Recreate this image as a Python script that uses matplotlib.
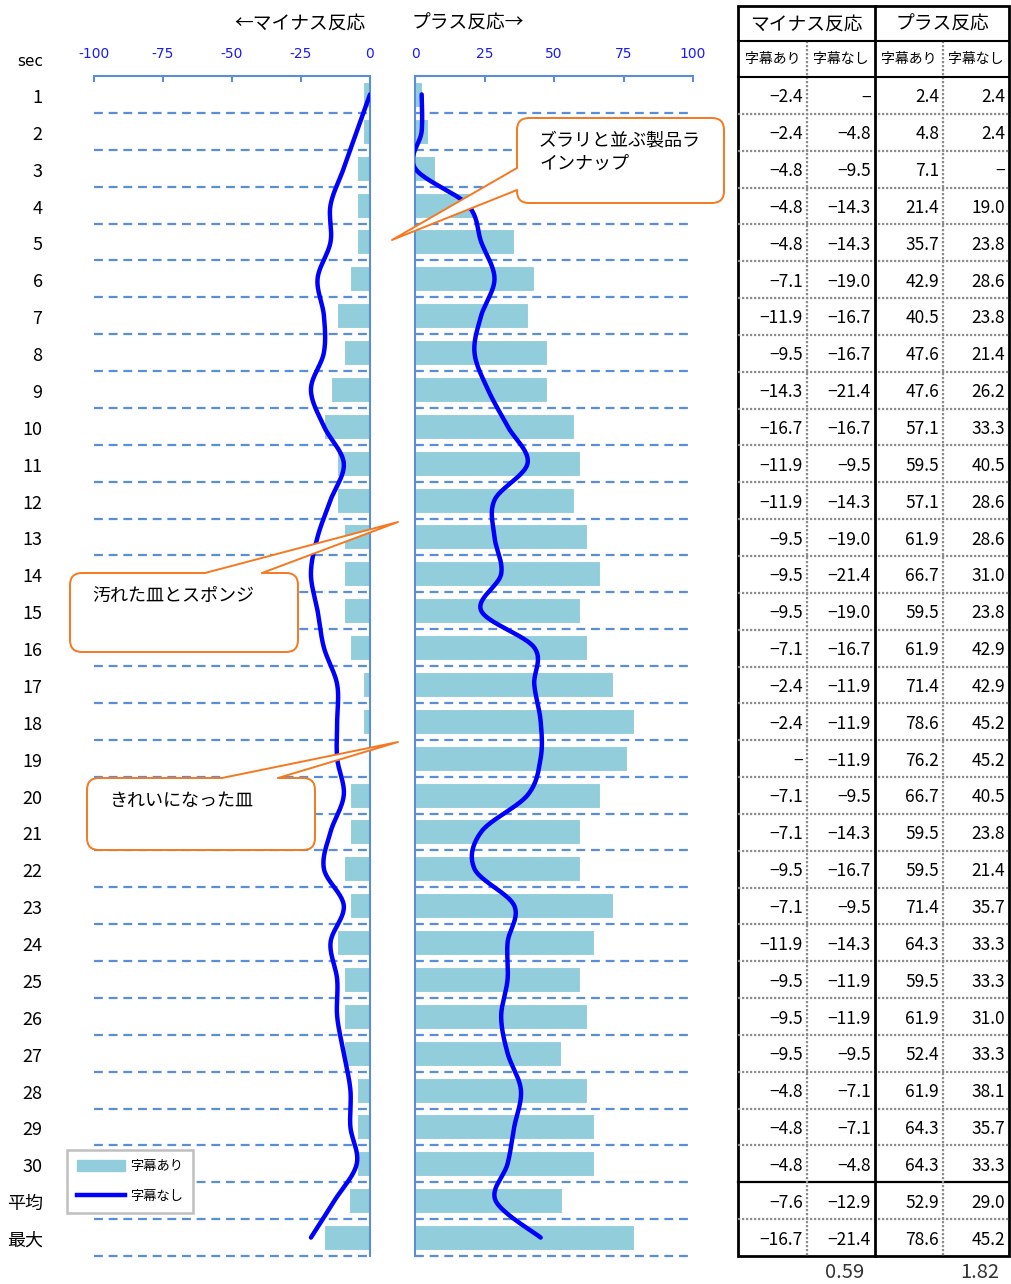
import numpy as np
import matplotlib
matplotlib.use("Agg")
import matplotlib.pyplot as plt
from matplotlib.patches import FancyBboxPatch, Polygon, Rectangle
from matplotlib.lines import Line2D

plt.rcParams['font.family'] = ['Noto Sans CJK JP', 'DejaVu Sans']

# ---- data -------------------------------------------------------------
row_labels = [str(i) for i in range(1, 31)] + ["平均", "最大"]

minus_with = [-2.4, -2.4, -4.8, -4.8, -4.8, -7.1, -11.9, -9.5, -14.3, -16.7,
              -11.9, -11.9, -9.5, -9.5, -9.5, -7.1, -2.4, -2.4, 0.0, -7.1,
              -7.1, -9.5, -7.1, -11.9, -9.5, -9.5, -9.5, -4.8, -4.8, -4.8,
              -7.6, -16.7]
minus_without = [0.0, -4.8, -9.5, -14.3, -14.3, -19.0, -16.7, -16.7, -21.4, -16.7,
                 -9.5, -14.3, -19.0, -21.4, -19.0, -16.7, -11.9, -11.9, -11.9, -9.5,
                 -14.3, -16.7, -9.5, -14.3, -11.9, -11.9, -9.5, -7.1, -7.1, -4.8,
                 -12.9, -21.4]
plus_with = [2.4, 4.8, 7.1, 21.4, 35.7, 42.9, 40.5, 47.6, 47.6, 57.1,
             59.5, 57.1, 61.9, 66.7, 59.5, 61.9, 71.4, 78.6, 76.2, 66.7,
             59.5, 59.5, 71.4, 64.3, 59.5, 61.9, 52.4, 61.9, 64.3, 64.3,
             52.9, 78.6]
plus_without = [2.4, 2.4, 0.0, 19.0, 23.8, 28.6, 23.8, 21.4, 26.2, 33.3,
                40.5, 28.6, 28.6, 31.0, 23.8, 42.9, 42.9, 45.2, 45.2, 40.5,
                23.8, 21.4, 35.7, 33.3, 33.3, 31.0, 33.3, 38.1, 35.7, 33.3,
                29.0, 45.2]

minus_ticks = [-100, -75, -50, -25, 0]
minus_ticklabels = ["-100", "-75", "-50", "-25", "0"]
plus_ticks = [0, 25, 50, 75, 100]
plus_ticklabels = ["0", "25", "50", "75", "100"]

series_names = ["字幕あり", "字幕なし"]
group_names = ["マイナス反応", "プラス反応"]
ratio_labels = ["0.59", "1.82"]

callouts = [
    ("ズラリと並ぶ製品ラ\nインナップ", (517, 118, 724, 203), [(517, 168), (517, 190)], (392, 240), 'left'),
    ("汚れた皿とスポンジ", (70, 573, 298, 652), [(205, 573), (262, 573)], (398, 522), 'top'),
    ("きれいになった皿", (87, 778, 315, 850), [(222, 778), (278, 778)], (398, 742), 'top'),
]

# ---- styling ----------------------------------------------------------
W, H = 1011, 1284
BAR = '#92cddc'
LINE = '#0000ff'
AXC = '#5b8ed6'
TICKC = '#1a1aff'
ORANGE = '#f47920'

fig = plt.figure(figsize=(W / 100, H / 100), dpi=100)


def frac(x0, y0, x1, y1):
    return [x0 / W, 1 - y1 / H, (x1 - x0) / W, (y1 - y0) / H]


def smooth(xv, yv, n=24):
    """Catmull-Rom curve through the points (xv, yv)."""
    p = np.column_stack([xv, yv]).astype(float)
    p = np.vstack([p[0], p, p[-1]])
    out = []
    t = np.linspace(0, 1, n, endpoint=False)[:, None]
    for i in range(1, len(p) - 2):
        p0, p1, p2, p3 = p[i - 1], p[i], p[i + 1], p[i + 2]
        seg = 0.5 * ((2 * p1) + (-p0 + p2) * t + (2 * p0 - 5 * p1 + 4 * p2 - p3) * t ** 2
                     + (-p0 + 3 * p1 - 3 * p2 + p3) * t ** 3)
        out.append(seg)
    out.append(p[-2][None, :])
    out = np.vstack(out)
    return out[:, 0], out[:, 1]


rows = np.arange(len(row_labels))
TOP, BOT = 76, 1256

axL = fig.add_axes(frac(94, TOP, 370, BOT))
axR = fig.add_axes(frac(415, TOP, 693, BOT))

for ax, bars, line, xlim, ticks, tlabels, spine in [
        (axL, minus_with, minus_without, (-100, 0), minus_ticks, minus_ticklabels, 'right'),
        (axR, plus_with, plus_without, (0, 100), plus_ticks, plus_ticklabels, 'left')]:
    ax.set_xlim(*xlim)
    ax.set_ylim(len(rows) - 0.5, -0.5)
    for b in np.append(rows[:-1] + 0.5, len(rows) - 0.5):
        ax.axhline(b, color=AXC, lw=1.6, ls=(0, (4, 2.6)), zorder=1, clip_on=False)
    ax.barh(rows, bars, height=0.68, color=BAR, edgecolor='white', lw=0.8, zorder=2)
    sx, sy = smooth(line, rows)
    ax.plot(sx, sy, color=LINE, lw=3.2, solid_capstyle='round', zorder=3)
    for s in ax.spines:
        ax.spines[s].set_visible(s in ('top', spine))
        ax.spines[s].set_color(AXC)
        ax.spines[s].set_linewidth(1.5)
    ax.xaxis.tick_top()
    ax.set_xticks(ticks)
    ax.set_xticklabels(tlabels, fontsize=10, color=TICKC, family='DejaVu Sans')
    ax.tick_params(axis='x', direction='in', length=4, width=1.5, color=AXC, pad=11)
    ax.set_yticks([])

axL.set_yticks(rows + 0.04)
axL.set_yticklabels(row_labels, fontsize=13)
axL.tick_params(axis='y', length=0, pad=37)

leg = axL.legend(handles=[Rectangle((0, 0), 1, 1, color=BAR),
                          Line2D([], [], color=LINE, lw=3.2)],
                 labels=series_names, loc='upper left',
                 bbox_to_anchor=(60 / W, 1 - 1143 / H), bbox_transform=fig.transFigure,
                 fontsize=9.5, fancybox=False, edgecolor='#bfbfbf', framealpha=1,
                 handlelength=3.6, handleheight=0.9, labelspacing=1.25,
                 borderpad=0.8, handletextpad=0.4)
leg.get_frame().set_linewidth(1.8)

# ---- overlay in pixel coordinates -------------------------------------
ov = fig.add_axes([0, 0, 1, 1], zorder=10)
ov.set_xlim(0, W)
ov.set_ylim(H, 0)
ov.axis('off')

ov.text(300, 23, "←マイナス反応", fontsize=13.5, ha='center', va='center')
ov.text(468, 23, "プラス反応→", fontsize=13.5, ha='center', va='center')
ov.text(43, 61, "sec", fontsize=11, ha='right', va='center', family='DejaVu Sans')

# callout boxes
for text, (x0, y0, x1, y1), base, tip, side in callouts:
    box = FancyBboxPatch((x0, y0), x1 - x0, y1 - y0,
                         boxstyle="round,pad=0,rounding_size=12",
                         fc='white', ec=ORANGE, lw=1.4, zorder=2)
    ov.add_patch(box)
    (bx0, by0), (bx1, by1) = base
    inset = (4, 0) if side == 'left' else (0, 4)
    poly = [(bx0, by0), tip, (bx1, by1),
            (bx1 + inset[0], by1 + inset[1]), (bx0 + inset[0], by0 + inset[1])]
    ov.add_patch(Polygon(poly, closed=True, fc='white', ec='none', zorder=3))
    ov.plot([bx0, tip[0], bx1], [by0, tip[1], by1], color=ORANGE, lw=1.4, zorder=4)
    ov.text(x0 + 22, y0 + 14, text, fontsize=13, ha='left', va='top',
            linespacing=1.3, zorder=5)

# ---- value table -------------------------------------------------------
cx = [738, 807, 875, 943, 1009]
ty = [6, 41, 77]
rh = (BOT - 77) / len(rows)
ry = [77 + i * rh for i in range(len(rows) + 1)]

for g, name in enumerate(group_names):
    ov.text((cx[2 * g] + cx[2 * g + 2]) / 2, 24, name, fontsize=13.5, ha='center', va='center')
    for k, s in enumerate(series_names):
        ov.text((cx[2 * g + k] + cx[2 * g + k + 1]) / 2, 59, s, fontsize=10,
                ha='center', va='center')


def fmt(v):
    if v == 0:
        return "−"
    return f"{v:.1f}".replace("-", "−")


columns = [minus_with, minus_without, plus_with, plus_without]
for c, vals in enumerate(columns):
    for i, v in enumerate(vals):
        ov.text(cx[c + 1] - 4, (ry[i] + ry[i + 1]) / 2 + 2, fmt(v), fontsize=12.5,
                ha='right', va='center')

GRAY = '#8c8c8c'
for i in range(1, len(rows)):
    if i == 30:
        ov.plot([cx[0], cx[-1]], [ry[i], ry[i]], color='black', lw=1.6)
    else:
        ov.plot([cx[0], cx[-1]], [ry[i], ry[i]], color=GRAY, lw=1.6, ls=(0, (1, 0.8)))
for x in (cx[1], cx[3]):
    ov.plot([x, x], [ty[1], BOT], color=GRAY, lw=1.6, ls=(0, (1, 0.8)))
for y in (ty[1], ty[2]):
    ov.plot([cx[0], cx[-1]], [y, y], color='black', lw=1.5)
ov.plot([cx[2], cx[2]], [ty[0], BOT], color='black', lw=2)
ov.add_patch(Rectangle((cx[0], ty[0]), cx[-1] - cx[0], BOT - ty[0],
                       fill=False, ec='black', lw=2))

ov.text(845, 1272, ratio_labels[0], fontsize=14.5, ha='center', va='center', color='#333333')
ov.text(980, 1272, ratio_labels[1], fontsize=14.5, ha='center', va='center', color='#333333')

fig.savefig("out.png", dpi=100)
